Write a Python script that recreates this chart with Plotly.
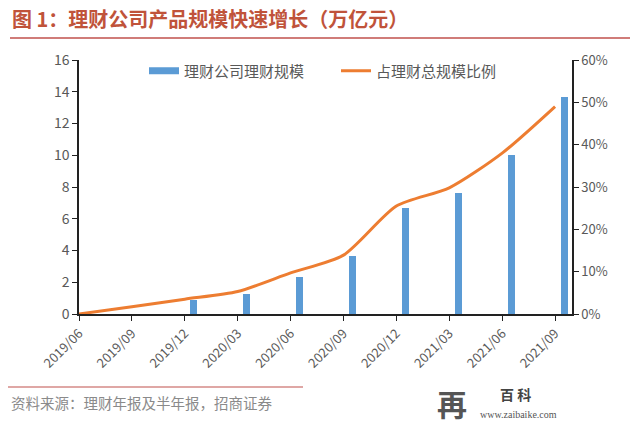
import plotly.graph_objects as go

categories = ["2019/06", "2019/09", "2019/12", "2020/03", "2020/06", "2020/09",
              "2020/12", "2021/03", "2021/06", "2021/09"]
scale_trn = [0, 0, 0.88, 1.28, 2.35, 3.65, 6.65, 7.62, 10.0, 13.67]
share_pct = [0.0, 0.017, 0.035, 0.053, 0.097, 0.139, 0.255, 0.298, 0.38, 0.49]
left_ticks = [0, 2, 4, 6, 8, 10, 12, 14, 16]
right_ticks = [0, 0.1, 0.2, 0.3, 0.4, 0.5, 0.6]

idx = list(range(len(categories)))
bar_x = [i + 0.17 for i in idx]

font_cjk = "Noto Sans CJK SC, Noto Sans, sans-serif"
gray = "#595959"
blue = "#5B9BD5"
orange = "#ED7D31"

fig = go.Figure()
fig.add_trace(go.Bar(
    x=bar_x, y=scale_trn, name="理财公司理财规模",
    marker=dict(color=blue, line=dict(width=0)), width=0.13,
    yaxis="y", showlegend=False,
))
# legend proxy for the bar series (wide rectangle like the reference)
fig.add_trace(go.Scatter(
    x=[None], y=[None], name="理财公司理财规模", mode="lines",
    line=dict(color=blue, width=7), yaxis="y",
))
fig.add_trace(go.Scatter(
    x=idx, y=share_pct, name="占理财总规模比例", mode="lines",
    line=dict(color=orange, width=3, shape="spline", smoothing=0.7),
    yaxis="y2",
))

fig.update_layout(
    width=640, height=435,
    margin=dict(l=79, r=68, t=60, b=121),
    paper_bgcolor="white", plot_bgcolor="white",
    font=dict(family=font_cjk, color=gray, size=12),
    showlegend=True,
    legend=dict(orientation="h", x=(144 - 79) / 493, y=0.957, xanchor="left", yanchor="middle",
                font=dict(size=15, color=gray), bgcolor="rgba(0,0,0,0)",
                itemwidth=30, entrywidth=147),
    xaxis=dict(range=[0, 9.32], tickvals=idx, ticktext=categories, tickangle=-45,
               showgrid=False, zeroline=False, showline=True, linecolor="#222",
               linewidth=1.5, ticks="outside", ticklen=5, tickcolor="#222",
               tickfont=dict(size=13, color=gray)),
    yaxis=dict(range=[0, 16], tickvals=left_ticks, showgrid=False, zeroline=False,
               showline=True, linecolor="#222", linewidth=1.5, ticks="outside",
               ticklen=5, tickcolor="#222", tickfont=dict(size=14, color=gray)),
    yaxis2=dict(range=[0, 0.6], tickvals=right_ticks, tickformat=".0%", overlaying="y",
                side="right", showgrid=False, zeroline=False, showline=True,
                linecolor="#222", linewidth=1.5, ticks="outside", ticklen=5,
                tickcolor="#222", tickfont=dict(size=13, color=gray), anchor="x"),
    bargap=0,
)

title_color = "#C0533A"
fig.add_annotation(xref="paper", yref="paper", x=(10 - 79) / 493, y=(314 - 18) / 254,
                   xanchor="left", yanchor="middle",
                   text="<b>图 1：理财公司产品规模快速增长（万亿元）</b>",
                   showarrow=False, font=dict(size=20, color=title_color, family=font_cjk))
fig.add_shape(type="line", xref="paper", yref="paper",
              x0=(10 - 79) / 493, x1=(630 - 79) / 493,
              y0=(314 - 38) / 254, y1=(314 - 38) / 254,
              line=dict(color="#C0504D", width=1.5))
fig.add_shape(type="line", xref="paper", yref="paper",
              x0=(8 - 79) / 493, x1=(303 - 79) / 493,
              y0=(314 - 387) / 254, y1=(314 - 387) / 254,
              line=dict(color="#C0504D", width=1.2))
fig.add_annotation(xref="paper", yref="paper", x=(9 - 79) / 493, y=(314 - 402) / 254,
                   xanchor="left", yanchor="middle",
                   text="资料来源：理财年报及半年报，招商证券",
                   showarrow=False, font=dict(size=14.5, color="#8A8A8A", family=font_cjk))
fig.add_annotation(xref="paper", yref="paper", x=(452 - 79) / 493, y=(314 - 403) / 254,
                   xanchor="center", yanchor="middle", text="<b>再</b>",
                   showarrow=False, font=dict(size=30, color="#555555", family=font_cjk))
fig.add_annotation(xref="paper", yref="paper", x=(515 - 79) / 493, y=(314 - 394) / 254,
                   xanchor="center", yanchor="middle", text="<b>百 科</b>",
                   showarrow=False, font=dict(size=14, color="#444444", family=font_cjk))
fig.add_annotation(xref="paper", yref="paper", x=(518 - 79) / 493, y=(314 - 414) / 254,
                   xanchor="center", yanchor="middle", text="www.zaibaike.com",
                   showarrow=False, font=dict(size=10, color="#555555", family="Liberation Serif"))

fig.write_html("out.html", config={"displayModeBar": False},
               post_script="document.body.style.margin='0px';document.body.style.overflow='hidden';")
